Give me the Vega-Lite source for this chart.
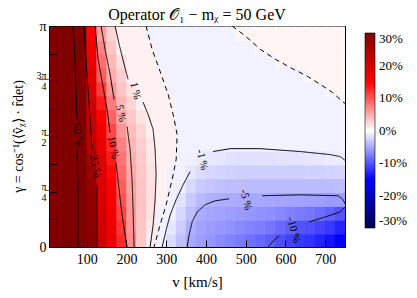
{
"$schema":"https://vega.github.io/schema/vega-lite/v6.json",
"width":296,"height":221,
"autosize":{"type":"none"},
"padding":{"left":49,"top":26,"right":72,"bottom":51},
"background":"white",
"title":{"text":"Operator 𝒪₁ − mᵪ = 50 GeV","font":"Liberation Serif","fontSize":16,"fontWeight":"normal","color":"black","anchor":"middle","offset":-4},
"config":{"view":{"stroke":"black","strokeWidth":1}},
"datasets":{
"grid":[
{"v":0,"g":0,"p":100},{"v":25,"g":0,"p":82},{"v":50,"g":0,"p":62.2},{"v":75,"g":0,"p":45},{"v":100,"g":0,"p":29},{"v":125,"g":0,"p":21},{"v":150,"g":0,"p":17.5},{"v":175,"g":0,"p":12.5},{"v":200,"g":0,"p":6.7},{"v":225,"g":0,"p":3.3},{"v":250,"g":0,"p":0.8},{"v":275,"g":0,"p":-0.9},{"v":300,"g":0,"p":-2.1},{"v":325,"g":0,"p":-3.7},{"v":350,"g":0,"p":-5.1},{"v":375,"g":0,"p":-5.7},{"v":400,"g":0,"p":-6.2},{"v":425,"g":0,"p":-6.8},{"v":450,"g":0,"p":-7.3},{"v":475,"g":0,"p":-7.8},{"v":500,"g":0,"p":-8.4},{"v":525,"g":0,"p":-8.9},{"v":550,"g":0,"p":-9.5},{"v":575,"g":0,"p":-10.4},{"v":600,"g":0,"p":-11.2},{"v":625,"g":0,"p":-11.7},{"v":650,"g":0,"p":-12.2},{"v":675,"g":0,"p":-13},{"v":700,"g":0,"p":-13.9},{"v":725,"g":0,"p":-15.6},
{"v":0,"g":0.0625,"p":100},{"v":25,"g":0.0625,"p":81.8},{"v":50,"g":0.0625,"p":62},{"v":75,"g":0.0625,"p":44.8},{"v":100,"g":0.0625,"p":28.7},{"v":125,"g":0.0625,"p":20.7},{"v":150,"g":0.0625,"p":17},{"v":175,"g":0.0625,"p":11.8},{"v":200,"g":0.0625,"p":6.3},{"v":225,"g":0.0625,"p":3.4},{"v":250,"g":0.0625,"p":1.3},{"v":275,"g":0.0625,"p":-0.8},{"v":300,"g":0.0625,"p":-1.5},{"v":325,"g":0.0625,"p":-3},{"v":350,"g":0.0625,"p":-4.7},{"v":375,"g":0.0625,"p":-5.4},{"v":400,"g":0.0625,"p":-5.8},{"v":425,"g":0.0625,"p":-6.1},{"v":450,"g":0.0625,"p":-6.5},{"v":475,"g":0.0625,"p":-6.9},{"v":500,"g":0.0625,"p":-7.3},{"v":525,"g":0.0625,"p":-7.6},{"v":550,"g":0.0625,"p":-8.1},{"v":575,"g":0.0625,"p":-8.8},{"v":600,"g":0.0625,"p":-9.5},{"v":625,"g":0.0625,"p":-10.1},{"v":650,"g":0.0625,"p":-10.4},{"v":675,"g":0.0625,"p":-11},{"v":700,"g":0.0625,"p":-11.7},{"v":725,"g":0.0625,"p":-12.9},
{"v":0,"g":0.125,"p":100},{"v":25,"g":0.125,"p":81.6},{"v":50,"g":0.125,"p":61.8},{"v":75,"g":0.125,"p":44.6},{"v":100,"g":0.125,"p":28.3},{"v":125,"g":0.125,"p":20.4},{"v":150,"g":0.125,"p":16.5},{"v":175,"g":0.125,"p":11},{"v":200,"g":0.125,"p":6},{"v":225,"g":0.125,"p":3.5},{"v":250,"g":0.125,"p":1.6},{"v":275,"g":0.125,"p":-0.8},{"v":300,"g":0.125,"p":-0.9},{"v":325,"g":0.125,"p":-2.3},{"v":350,"g":0.125,"p":-3.9},{"v":375,"g":0.125,"p":-5},{"v":400,"g":0.125,"p":-5.3},{"v":425,"g":0.125,"p":-5.5},{"v":450,"g":0.125,"p":-5.7},{"v":475,"g":0.125,"p":-6},{"v":500,"g":0.125,"p":-6.2},{"v":525,"g":0.125,"p":-6.4},{"v":550,"g":0.125,"p":-6.6},{"v":575,"g":0.125,"p":-7},{"v":600,"g":0.125,"p":-7.4},{"v":625,"g":0.125,"p":-7.8},{"v":650,"g":0.125,"p":-8.1},{"v":675,"g":0.125,"p":-8.6},{"v":700,"g":0.125,"p":-9.3},{"v":725,"g":0.125,"p":-10.1},
{"v":0,"g":0.1875,"p":100},{"v":25,"g":0.1875,"p":81.4},{"v":50,"g":0.1875,"p":61.6},{"v":75,"g":0.1875,"p":44.3},{"v":100,"g":0.1875,"p":27.9},{"v":125,"g":0.1875,"p":20},{"v":150,"g":0.1875,"p":15.9},{"v":175,"g":0.1875,"p":10.2},{"v":200,"g":0.1875,"p":5.8},{"v":225,"g":0.1875,"p":3.6},{"v":250,"g":0.1875,"p":1.9},{"v":275,"g":0.1875,"p":0.8},{"v":300,"g":0.1875,"p":-0.8},{"v":325,"g":0.1875,"p":-1.7},{"v":350,"g":0.1875,"p":-3.1},{"v":375,"g":0.1875,"p":-4.1},{"v":400,"g":0.1875,"p":-4.6},{"v":425,"g":0.1875,"p":-4.8},{"v":450,"g":0.1875,"p":-4.9},{"v":475,"g":0.1875,"p":-5},{"v":500,"g":0.1875,"p":-5.1},{"v":525,"g":0.1875,"p":-5.1},{"v":550,"g":0.1875,"p":-5.2},{"v":575,"g":0.1875,"p":-5.3},{"v":600,"g":0.1875,"p":-5.4},{"v":625,"g":0.1875,"p":-5.5},{"v":650,"g":0.1875,"p":-5.6},{"v":675,"g":0.1875,"p":-5.7},{"v":700,"g":0.1875,"p":-5.9},{"v":725,"g":0.1875,"p":-5.8},
{"v":0,"g":0.25,"p":100},{"v":25,"g":0.25,"p":81},{"v":50,"g":0.25,"p":61.2},{"v":75,"g":0.25,"p":44},{"v":100,"g":0.25,"p":27.5},{"v":125,"g":0.25,"p":19.6},{"v":150,"g":0.25,"p":15.3},{"v":175,"g":0.25,"p":9.5},{"v":200,"g":0.25,"p":5.5},{"v":225,"g":0.25,"p":3.5},{"v":250,"g":0.25,"p":1.9},{"v":275,"g":0.25,"p":0.8},{"v":300,"g":0.25,"p":-0.8},{"v":325,"g":0.25,"p":-1},{"v":350,"g":0.25,"p":-2.3},{"v":375,"g":0.25,"p":-3.1},{"v":400,"g":0.25,"p":-3.5},{"v":425,"g":0.25,"p":-3.7},{"v":450,"g":0.25,"p":-3.8},{"v":475,"g":0.25,"p":-3.9},{"v":500,"g":0.25,"p":-4},{"v":525,"g":0.25,"p":-4},{"v":550,"g":0.25,"p":-4},{"v":575,"g":0.25,"p":-4},{"v":600,"g":0.25,"p":-4},{"v":625,"g":0.25,"p":-4},{"v":650,"g":0.25,"p":-4},{"v":675,"g":0.25,"p":-4},{"v":700,"g":0.25,"p":-4},{"v":725,"g":0.25,"p":-3.9},
{"v":0,"g":0.3125,"p":100},{"v":25,"g":0.3125,"p":80.8},{"v":50,"g":0.3125,"p":61},{"v":75,"g":0.3125,"p":43.8},{"v":100,"g":0.3125,"p":27},{"v":125,"g":0.3125,"p":19.2},{"v":150,"g":0.3125,"p":14.5},{"v":175,"g":0.3125,"p":8.8},{"v":200,"g":0.3125,"p":5},{"v":225,"g":0.3125,"p":3.3},{"v":250,"g":0.3125,"p":1.7},{"v":275,"g":0.3125,"p":0.8},{"v":300,"g":0.3125,"p":-0.8},{"v":325,"g":0.3125,"p":-0.8},{"v":350,"g":0.3125,"p":-1.5},{"v":375,"g":0.3125,"p":-2.1},{"v":400,"g":0.3125,"p":-2.4},{"v":425,"g":0.3125,"p":-2.6},{"v":450,"g":0.3125,"p":-2.7},{"v":475,"g":0.3125,"p":-2.8},{"v":500,"g":0.3125,"p":-2.9},{"v":525,"g":0.3125,"p":-2.9},{"v":550,"g":0.3125,"p":-2.8},{"v":575,"g":0.3125,"p":-2.8},{"v":600,"g":0.3125,"p":-2.8},{"v":625,"g":0.3125,"p":-2.8},{"v":650,"g":0.3125,"p":-2.7},{"v":675,"g":0.3125,"p":-2.7},{"v":700,"g":0.3125,"p":-2.6},{"v":725,"g":0.3125,"p":-2.5},
{"v":0,"g":0.375,"p":100},{"v":25,"g":0.375,"p":80.6},{"v":50,"g":0.375,"p":60.8},{"v":75,"g":0.375,"p":43.1},{"v":100,"g":0.375,"p":25.5},{"v":125,"g":0.375,"p":18.5},{"v":150,"g":0.375,"p":13.5},{"v":175,"g":0.375,"p":8.2},{"v":200,"g":0.375,"p":4.7},{"v":225,"g":0.375,"p":3.1},{"v":250,"g":0.375,"p":1.5},{"v":275,"g":0.375,"p":0.8},{"v":300,"g":0.375,"p":0.8},{"v":325,"g":0.375,"p":-0.8},{"v":350,"g":0.375,"p":-0.9},{"v":375,"g":0.375,"p":-1.1},{"v":400,"g":0.375,"p":-1.4},{"v":425,"g":0.375,"p":-1.5},{"v":450,"g":0.375,"p":-1.7},{"v":475,"g":0.375,"p":-1.8},{"v":500,"g":0.375,"p":-1.8},{"v":525,"g":0.375,"p":-1.7},{"v":550,"g":0.375,"p":-1.7},{"v":575,"g":0.375,"p":-1.6},{"v":600,"g":0.375,"p":-1.6},{"v":625,"g":0.375,"p":-1.6},{"v":650,"g":0.375,"p":-1.5},{"v":675,"g":0.375,"p":-1.4},{"v":700,"g":0.375,"p":-1.2},{"v":725,"g":0.375,"p":-1.1},
{"v":0,"g":0.4375,"p":100},{"v":25,"g":0.4375,"p":80.4},{"v":50,"g":0.4375,"p":60.6},{"v":75,"g":0.4375,"p":42.2},{"v":100,"g":0.4375,"p":23.5},{"v":125,"g":0.4375,"p":17.5},{"v":150,"g":0.4375,"p":12.4},{"v":175,"g":0.4375,"p":7.4},{"v":200,"g":0.4375,"p":4.3},{"v":225,"g":0.4375,"p":2.8},{"v":250,"g":0.4375,"p":1.3},{"v":275,"g":0.4375,"p":0.8},{"v":300,"g":0.4375,"p":0.8},{"v":325,"g":0.4375,"p":-0.8},{"v":350,"g":0.4375,"p":-0.8},{"v":375,"g":0.4375,"p":-0.8},{"v":400,"g":0.4375,"p":-0.8},{"v":425,"g":0.4375,"p":-0.8},{"v":450,"g":0.4375,"p":-0.8},{"v":475,"g":0.4375,"p":-0.8},{"v":500,"g":0.4375,"p":-0.8},{"v":525,"g":0.4375,"p":-0.8},{"v":550,"g":0.4375,"p":-0.8},{"v":575,"g":0.4375,"p":-0.8},{"v":600,"g":0.4375,"p":-0.8},{"v":625,"g":0.4375,"p":-0.8},{"v":650,"g":0.4375,"p":-0.8},{"v":675,"g":0.4375,"p":-0.8},{"v":700,"g":0.4375,"p":-0.8},{"v":725,"g":0.4375,"p":-0.8},
{"v":0,"g":0.5,"p":100},{"v":25,"g":0.5,"p":79.8},{"v":50,"g":0.5,"p":60},{"v":75,"g":0.5,"p":41.1},{"v":100,"g":0.5,"p":22.5},{"v":125,"g":0.5,"p":16.5},{"v":150,"g":0.5,"p":10.7},{"v":175,"g":0.5,"p":6.2},{"v":200,"g":0.5,"p":3.9},{"v":225,"g":0.5,"p":2.4},{"v":250,"g":0.5,"p":0.8},{"v":275,"g":0.5,"p":0.8},{"v":300,"g":0.5,"p":0.8},{"v":325,"g":0.5,"p":-0.8},{"v":350,"g":0.5,"p":-0.8},{"v":375,"g":0.5,"p":-0.8},{"v":400,"g":0.5,"p":-0.8},{"v":425,"g":0.5,"p":-0.8},{"v":450,"g":0.5,"p":-0.8},{"v":475,"g":0.5,"p":-0.8},{"v":500,"g":0.5,"p":-0.8},{"v":525,"g":0.5,"p":-0.8},{"v":550,"g":0.5,"p":-0.8},{"v":575,"g":0.5,"p":-0.8},{"v":600,"g":0.5,"p":-0.8},{"v":625,"g":0.5,"p":-0.8},{"v":650,"g":0.5,"p":-0.8},{"v":675,"g":0.5,"p":-0.8},{"v":700,"g":0.5,"p":-0.8},{"v":725,"g":0.5,"p":-0.8},
{"v":0,"g":0.5625,"p":100},{"v":25,"g":0.5625,"p":78.6},{"v":50,"g":0.5625,"p":58.8},{"v":75,"g":0.5625,"p":39.7},{"v":100,"g":0.5625,"p":21.5},{"v":125,"g":0.5625,"p":15},{"v":150,"g":0.5625,"p":9.2},{"v":175,"g":0.5625,"p":5},{"v":200,"g":0.5625,"p":3.3},{"v":225,"g":0.5625,"p":1.6},{"v":250,"g":0.5625,"p":0.8},{"v":275,"g":0.5625,"p":0.8},{"v":300,"g":0.5625,"p":0.8},{"v":325,"g":0.5625,"p":-0.8},{"v":350,"g":0.5625,"p":-0.8},{"v":375,"g":0.5625,"p":-0.8},{"v":400,"g":0.5625,"p":-0.8},{"v":425,"g":0.5625,"p":-0.8},{"v":450,"g":0.5625,"p":-0.8},{"v":475,"g":0.5625,"p":-0.8},{"v":500,"g":0.5625,"p":-0.8},{"v":525,"g":0.5625,"p":-0.8},{"v":550,"g":0.5625,"p":-0.8},{"v":575,"g":0.5625,"p":-0.8},{"v":600,"g":0.5625,"p":-0.8},{"v":625,"g":0.5625,"p":-0.8},{"v":650,"g":0.5625,"p":-0.8},{"v":675,"g":0.5625,"p":-0.8},{"v":700,"g":0.5625,"p":-0.8},{"v":725,"g":0.5625,"p":-0.8},
{"v":0,"g":0.625,"p":100},{"v":25,"g":0.625,"p":77.8},{"v":50,"g":0.625,"p":58},{"v":75,"g":0.625,"p":38.4},{"v":100,"g":0.625,"p":20.5},{"v":125,"g":0.625,"p":13.5},{"v":150,"g":0.625,"p":7.8},{"v":175,"g":0.625,"p":4.3},{"v":200,"g":0.625,"p":2.5},{"v":225,"g":0.625,"p":0.8},{"v":250,"g":0.625,"p":0.8},{"v":275,"g":0.625,"p":0.8},{"v":300,"g":0.625,"p":0.8},{"v":325,"g":0.625,"p":-0.8},{"v":350,"g":0.625,"p":-0.8},{"v":375,"g":0.625,"p":-0.8},{"v":400,"g":0.625,"p":-0.8},{"v":425,"g":0.625,"p":-0.8},{"v":450,"g":0.625,"p":-0.8},{"v":475,"g":0.625,"p":-0.8},{"v":500,"g":0.625,"p":-0.8},{"v":525,"g":0.625,"p":-0.8},{"v":550,"g":0.625,"p":-0.8},{"v":575,"g":0.625,"p":-0.8},{"v":600,"g":0.625,"p":-0.8},{"v":625,"g":0.625,"p":-0.8},{"v":650,"g":0.625,"p":-0.8},{"v":675,"g":0.625,"p":-0.8},{"v":700,"g":0.625,"p":-0.8},{"v":725,"g":0.625,"p":-0.8},
{"v":0,"g":0.6875,"p":100},{"v":25,"g":0.6875,"p":76.6},{"v":50,"g":0.6875,"p":56.8},{"v":75,"g":0.6875,"p":36.8},{"v":100,"g":0.6875,"p":19.5},{"v":125,"g":0.6875,"p":11.5},{"v":150,"g":0.6875,"p":6.2},{"v":175,"g":0.6875,"p":3.5},{"v":200,"g":0.6875,"p":1.6},{"v":225,"g":0.6875,"p":0.8},{"v":250,"g":0.6875,"p":0.8},{"v":275,"g":0.6875,"p":0.8},{"v":300,"g":0.6875,"p":-0.8},{"v":325,"g":0.6875,"p":-0.8},{"v":350,"g":0.6875,"p":-0.8},{"v":375,"g":0.6875,"p":-0.8},{"v":400,"g":0.6875,"p":-0.8},{"v":425,"g":0.6875,"p":-0.8},{"v":450,"g":0.6875,"p":-0.8},{"v":475,"g":0.6875,"p":-0.8},{"v":500,"g":0.6875,"p":-0.8},{"v":525,"g":0.6875,"p":-0.8},{"v":550,"g":0.6875,"p":-0.8},{"v":575,"g":0.6875,"p":-0.8},{"v":600,"g":0.6875,"p":-0.8},{"v":625,"g":0.6875,"p":-0.8},{"v":650,"g":0.6875,"p":-0.8},{"v":675,"g":0.6875,"p":-0.8},{"v":700,"g":0.6875,"p":0.6},{"v":725,"g":0.6875,"p":0.6},
{"v":0,"g":0.75,"p":100},{"v":25,"g":0.75,"p":75.8},{"v":50,"g":0.75,"p":56},{"v":75,"g":0.75,"p":35.4},{"v":100,"g":0.75,"p":18.5},{"v":125,"g":0.75,"p":9.5},{"v":150,"g":0.75,"p":4.8},{"v":175,"g":0.75,"p":2.8},{"v":200,"g":0.75,"p":0.8},{"v":225,"g":0.75,"p":0.8},{"v":250,"g":0.75,"p":0.8},{"v":275,"g":0.75,"p":0.8},{"v":300,"g":0.75,"p":-0.8},{"v":325,"g":0.75,"p":-0.8},{"v":350,"g":0.75,"p":-0.8},{"v":375,"g":0.75,"p":-0.8},{"v":400,"g":0.75,"p":-0.8},{"v":425,"g":0.75,"p":-0.8},{"v":450,"g":0.75,"p":-0.8},{"v":475,"g":0.75,"p":-0.8},{"v":500,"g":0.75,"p":-0.8},{"v":525,"g":0.75,"p":-0.8},{"v":550,"g":0.75,"p":-0.8},{"v":575,"g":0.75,"p":-0.8},{"v":600,"g":0.75,"p":-0.8},{"v":625,"g":0.75,"p":-0.8},{"v":650,"g":0.75,"p":0.6},{"v":675,"g":0.75,"p":0.6},{"v":700,"g":0.75,"p":0.6},{"v":725,"g":0.75,"p":0.6},
{"v":0,"g":0.8125,"p":100},{"v":25,"g":0.8125,"p":74.6},{"v":50,"g":0.8125,"p":54.8},{"v":75,"g":0.8125,"p":34},{"v":100,"g":0.8125,"p":17.5},{"v":125,"g":0.8125,"p":8.5},{"v":150,"g":0.8125,"p":4.2},{"v":175,"g":0.8125,"p":1.9},{"v":200,"g":0.8125,"p":0.8},{"v":225,"g":0.8125,"p":0.8},{"v":250,"g":0.8125,"p":0.8},{"v":275,"g":0.8125,"p":-0.8},{"v":300,"g":0.8125,"p":-0.8},{"v":325,"g":0.8125,"p":-0.8},{"v":350,"g":0.8125,"p":-0.8},{"v":375,"g":0.8125,"p":-0.8},{"v":400,"g":0.8125,"p":-0.8},{"v":425,"g":0.8125,"p":-0.8},{"v":450,"g":0.8125,"p":-0.8},{"v":475,"g":0.8125,"p":-0.8},{"v":500,"g":0.8125,"p":-0.8},{"v":525,"g":0.8125,"p":-0.8},{"v":550,"g":0.8125,"p":-0.8},{"v":575,"g":0.8125,"p":0.6},{"v":600,"g":0.8125,"p":0.6},{"v":625,"g":0.8125,"p":0.6},{"v":650,"g":0.8125,"p":0.6},{"v":675,"g":0.8125,"p":0.6},{"v":700,"g":0.8125,"p":0.6},{"v":725,"g":0.8125,"p":0.6},
{"v":0,"g":0.875,"p":100},{"v":25,"g":0.875,"p":73.6},{"v":50,"g":0.875,"p":53.8},{"v":75,"g":0.875,"p":32.5},{"v":100,"g":0.875,"p":16.5},{"v":125,"g":0.875,"p":7.3},{"v":150,"g":0.875,"p":3.4},{"v":175,"g":0.875,"p":0.8},{"v":200,"g":0.875,"p":0.8},{"v":225,"g":0.875,"p":0.8},{"v":250,"g":0.875,"p":0.8},{"v":275,"g":0.875,"p":-0.8},{"v":300,"g":0.875,"p":-0.8},{"v":325,"g":0.875,"p":-0.8},{"v":350,"g":0.875,"p":-0.8},{"v":375,"g":0.875,"p":-0.8},{"v":400,"g":0.875,"p":-0.8},{"v":425,"g":0.875,"p":-0.8},{"v":450,"g":0.875,"p":-0.8},{"v":475,"g":0.875,"p":-0.8},{"v":500,"g":0.875,"p":-0.8},{"v":525,"g":0.875,"p":0.6},{"v":550,"g":0.875,"p":0.6},{"v":575,"g":0.875,"p":0.6},{"v":600,"g":0.875,"p":0.6},{"v":625,"g":0.875,"p":0.6},{"v":650,"g":0.875,"p":0.6},{"v":675,"g":0.875,"p":0.6},{"v":700,"g":0.875,"p":0.6},{"v":725,"g":0.875,"p":0.6},
{"v":0,"g":0.9375,"p":100},{"v":25,"g":0.9375,"p":72.6},{"v":50,"g":0.9375,"p":52.8},{"v":75,"g":0.9375,"p":31},{"v":100,"g":0.9375,"p":15},{"v":125,"g":0.9375,"p":5.6},{"v":150,"g":0.9375,"p":2.5},{"v":175,"g":0.9375,"p":0.8},{"v":200,"g":0.9375,"p":0.8},{"v":225,"g":0.9375,"p":0.8},{"v":250,"g":0.9375,"p":-0.8},{"v":275,"g":0.9375,"p":-0.8},{"v":300,"g":0.9375,"p":-0.8},{"v":325,"g":0.9375,"p":-0.8},{"v":350,"g":0.9375,"p":-0.8},{"v":375,"g":0.9375,"p":-0.8},{"v":400,"g":0.9375,"p":-0.8},{"v":425,"g":0.9375,"p":-0.8},{"v":450,"g":0.9375,"p":-0.8},{"v":475,"g":0.9375,"p":0.6},{"v":500,"g":0.9375,"p":0.6},{"v":525,"g":0.9375,"p":0.6},{"v":550,"g":0.9375,"p":0.6},{"v":575,"g":0.9375,"p":0.6},{"v":600,"g":0.9375,"p":0.6},{"v":625,"g":0.9375,"p":0.6},{"v":650,"g":0.9375,"p":0.6},{"v":675,"g":0.9375,"p":0.6},{"v":700,"g":0.9375,"p":0.6},{"v":725,"g":0.9375,"p":0.6}
],
"lines":[
{"s":"50a","lev":"50","k":0,"v":65.5,"g":1},{"s":"50a","lev":"50","k":1,"v":70.5,"g":0.85},{"s":"50a","lev":"50","k":2,"v":73,"g":0.714},{"s":"50a","lev":"50","k":3,"v":75.6,"g":0.577},
{"s":"50b","lev":"50","k":0,"v":75.6,"g":0.441},{"s":"50b","lev":"50","k":1,"v":78.1,"g":0.259},{"s":"50b","lev":"50","k":2,"v":78.1,"g":0},
{"s":"25a","lev":"25","k":0,"v":93.2,"g":1},{"s":"25a","lev":"25","k":1,"v":98.2,"g":0.85},{"s":"25a","lev":"25","k":2,"v":103.3,"g":0.714},{"s":"25a","lev":"25","k":3,"v":108.3,"g":0.577},{"s":"25a","lev":"25","k":4,"v":113.4,"g":0.441},
{"s":"25b","lev":"25","k":0,"v":126,"g":0.282},{"s":"25b","lev":"25","k":1,"v":126,"g":0.123},{"s":"25b","lev":"25","k":2,"v":126,"g":0},
{"s":"10a","lev":"10","k":0,"v":120.9,"g":1},{"s":"10a","lev":"10","k":1,"v":128.5,"g":0.85},{"s":"10a","lev":"10","k":2,"v":138.5,"g":0.75},{"s":"10a","lev":"10","k":3,"v":151.1,"g":0.623},{"s":"10a","lev":"10","k":4,"v":158.7,"g":0.518},
{"s":"10b","lev":"10","k":0,"v":173.8,"g":0.382},{"s":"10b","lev":"10","k":1,"v":181.4,"g":0.259},{"s":"10b","lev":"10","k":2,"v":188.9,"g":0.145},{"s":"10b","lev":"10","k":3,"v":196.5,"g":0.055},{"s":"10b","lev":"10","k":4,"v":201.5,"g":0},
{"s":"5a","lev":"5","k":0,"v":136,"g":1},{"s":"5a","lev":"5","k":1,"v":146.1,"g":0.895},{"s":"5a","lev":"5","k":2,"v":158.7,"g":0.782},{"s":"5a","lev":"5","k":3,"v":168.8,"g":0.668},
{"s":"5b","lev":"5","k":0,"v":201.5,"g":0.545},{"s":"5b","lev":"5","k":1,"v":209.1,"g":0.441},{"s":"5b","lev":"5","k":2,"v":214.1,"g":0.305},{"s":"5b","lev":"5","k":3,"v":216.6,"g":0.168},{"s":"5b","lev":"5","k":4,"v":219.2,"g":0},
{"s":"1a","lev":"1","k":0,"v":171.3,"g":1},{"s":"1a","lev":"1","k":1,"v":181.4,"g":0.918},{"s":"1a","lev":"1","k":2,"v":194,"g":0.827},{"s":"1a","lev":"1","k":3,"v":204,"g":0.759},
{"s":"1b","lev":"1","k":0,"v":241.8,"g":0.655},{"s":"1b","lev":"1","k":1,"v":254.4,"g":0.6},{"s":"1b","lev":"1","k":2,"v":267,"g":0.532},{"s":"1b","lev":"1","k":3,"v":272.1,"g":0.441},{"s":"1b","lev":"1","k":4,"v":274.6,"g":0.327},{"s":"1b","lev":"1","k":5,"v":272.1,"g":0.214},{"s":"1b","lev":"1","k":6,"v":267,"g":0.1},{"s":"1b","lev":"1","k":7,"v":259.5,"g":0},
{"s":"0a","lev":"0","k":0,"v":249.4,"g":1},{"s":"0a","lev":"0","k":1,"v":264.5,"g":0.895},{"s":"0a","lev":"0","k":2,"v":284.6,"g":0.795},{"s":"0a","lev":"0","k":3,"v":304.8,"g":0.691},{"s":"0a","lev":"0","k":4,"v":317.4,"g":0.6},{"s":"0a","lev":"0","k":5,"v":327.5,"g":0.509},{"s":"0a","lev":"0","k":6,"v":325,"g":0.395},{"s":"0a","lev":"0","k":7,"v":314.9,"g":0.305},{"s":"0a","lev":"0","k":8,"v":299.8,"g":0.191},{"s":"0a","lev":"0","k":9,"v":284.6,"g":0.1},{"s":"0a","lev":"0","k":10,"v":269.5,"g":0},
{"s":"0b","lev":"0","k":0,"v":466,"g":1},{"s":"0b","lev":"0","k":1,"v":498.8,"g":0.955},{"s":"0b","lev":"0","k":2,"v":536.5,"g":0.895},{"s":"0b","lev":"0","k":3,"v":574.3,"g":0.85},{"s":"0b","lev":"0","k":4,"v":619.7,"g":0.805},{"s":"0b","lev":"0","k":5,"v":655,"g":0.773},{"s":"0b","lev":"0","k":6,"v":687.7,"g":0.736},{"s":"0b","lev":"0","k":7,"v":717.9,"g":0.7},{"s":"0b","lev":"0","k":8,"v":743.1,"g":0.659},{"s":"0b","lev":"0","k":9,"v":753,"g":0.645},
{"s":"m1a","lev":"-1","k":0,"v":289.7,"g":0},{"s":"m1a","lev":"-1","k":1,"v":299.8,"g":0.077},{"s":"m1a","lev":"-1","k":2,"v":309.9,"g":0.145},{"s":"m1a","lev":"-1","k":3,"v":325,"g":0.214},{"s":"m1a","lev":"-1","k":4,"v":342.6,"g":0.282},{"s":"m1a","lev":"-1","k":5,"v":360.2,"g":0.341},
{"s":"m1b","lev":"-1","k":0,"v":418.2,"g":0.432},{"s":"m1b","lev":"-1","k":1,"v":461,"g":0.445},{"s":"m1b","lev":"-1","k":2,"v":536.5,"g":0.445},{"s":"m1b","lev":"-1","k":3,"v":637.3,"g":0.432},{"s":"m1b","lev":"-1","k":4,"v":712.9,"g":0.418},{"s":"m1b","lev":"-1","k":5,"v":738,"g":0.409},{"s":"m1b","lev":"-1","k":6,"v":750.7,"g":0.391},
{"s":"m5a","lev":"-5","k":0,"v":352.7,"g":0},{"s":"m5a","lev":"-5","k":1,"v":357.7,"g":0.055},{"s":"m5a","lev":"-5","k":2,"v":365.3,"g":0.114},{"s":"m5a","lev":"-5","k":3,"v":377.9,"g":0.159},{"s":"m5a","lev":"-5","k":4,"v":398,"g":0.191},{"s":"m5a","lev":"-5","k":5,"v":423.2,"g":0.209},{"s":"m5a","lev":"-5","k":6,"v":458.5,"g":0.218},
{"s":"m5b","lev":"-5","k":0,"v":541.6,"g":0.232},{"s":"m5b","lev":"-5","k":1,"v":637.3,"g":0.236},{"s":"m5b","lev":"-5","k":2,"v":733,"g":0.232},{"s":"m5b","lev":"-5","k":3,"v":743.1,"g":0.218},{"s":"m5b","lev":"-5","k":4,"v":750.7,"g":0.195},
{"s":"m10a","lev":"-10","k":0,"v":556.7,"g":0},{"s":"m10a","lev":"-10","k":1,"v":569.3,"g":0.027},{"s":"m10a","lev":"-10","k":2,"v":584.4,"g":0.05},
{"s":"m10b","lev":"-10","k":0,"v":660,"g":0.114},{"s":"m10b","lev":"-10","k":1,"v":700.3,"g":0.136},{"s":"m10b","lev":"-10","k":2,"v":738,"g":0.159},{"s":"m10b","lev":"-10","k":3,"v":750.7,"g":0.182}
],
"labels":[
{"t":"50 %","v":76.8,"g":0.509},{"t":"25 %","v":120.9,"g":0.364},{"t":"10 %","v":166,"g":0.45},{"t":"5 %","v":185,"g":0.605},{"t":"1 %","v":222,"g":0.707},{"t":"-1 %","v":390,"g":0.395},{"t":"-5 %","v":500,"g":0.214},{"t":"-10 %","v":620,"g":0.077}
]
},
"layer":[
{"data":{"name":"grid"},
 "mark":{"type":"rect","clip":true,"x2Offset":-0.8,"y2Offset":0.8},
 "encoding":{
  "x":{"field":"v","type":"quantitative","bin":{"binned":true,"step":25},"scale":{"domain":[5,750],"nice":false,"zero":false},
       "axis":{"orient":"bottom","values":[100,200,300,400,500,600,700],"tickSize":-7,"tickColor":"black","domainColor":"black","labelFont":"Liberation Serif","labelFontSize":14,"labelColor":"black","labelPadding":12,"grid":false,"title":"v [km/s]","titleFont":"Liberation Serif","titleFontSize":15,"titleFontWeight":"normal","titleColor":"black","titleY":34,"titleBaseline":"middle"}},
  "y":{"field":"g","type":"quantitative","bin":{"binned":true,"step":0.0625},"scale":{"domain":[0,1],"nice":false,"zero":false},
       "axis":{"orient":"left","values":[0,0.125,0.25,0.375,0.5,0.625,0.75,0.875,1],"tickSize":-7,"tickColor":"black","domainColor":"black","labelFont":"Liberation Serif","labelFontSize":{"condition":{"test":"datum.value==1 || datum.value==0","value":14},"value":10},"labelLineHeight":11,"labelOffset":{"condition":{"test":"datum.value==1 || datum.value==0","value":0},"value":-5.5},"labelColor":"black","labelPadding":10,"grid":false,
        "labelExpr":"datum.value==1?'π':datum.value==0.75?['3\u0332\u03c0\u0332','4']:datum.value==0.5?['\u03c0\u0332','2']:datum.value==0.25?['\u03c0\u0332','4']:datum.value==0?'0':''",
        "title":"γ = cos⁻¹(⟨v̂ᵪ⟩ · r̂det)","titleFont":"Liberation Serif","titleFontSize":14,"titleFontWeight":"normal","titleColor":"black","titleX":-31,"titleY":110,"titleBaseline":"middle"}},
  "color":{"field":"p","type":"quantitative","scale":{"type":"linear","domain":[-30,-15,0,15,30],"range":["#00004d","#0000ff","#ffffff","#ff0000","#800000"],"clamp":true,"interpolate":"rgb"},
       "legend":{"type":"gradient","orient":"none","legendX":316,"legendY":7,"direction":"vertical","gradientLength":195,"gradientThickness":10,"gradientStrokeColor":"black","gradientStrokeWidth":0.6,"values":[-30,-20,-10,0,10,20,30],"labelExpr":"datum.value+'%'","labelFont":"Liberation Serif","labelFontSize":13,"labelColor":"black","title":null,"padding":0,"labelOffset":4}}
 }},
{"data":{"name":"lines"},
 "mark":{"type":"line","clip":true,"color":"black","strokeWidth":1},
 "encoding":{
  "x":{"field":"v","type":"quantitative","axis":{"orient":"top","values":[100,200,300,400,500,600,700],"tickSize":-7,"tickColor":"black","domainColor":"black","labels":false,"title":null,"grid":false}},
  "y":{"field":"g","type":"quantitative","axis":{"orient":"right","values":[0,0.125,0.25,0.375,0.5,0.625,0.75,0.875,1],"tickSize":-7,"tickColor":"black","domainColor":"black","labels":false,"title":null,"grid":false}},
  "detail":{"field":"s","type":"nominal"},
  "order":{"field":"k","type":"quantitative"},
  "strokeDash":{"field":"lev","type":"nominal","scale":{"domain":["50","25","10","5","1","0","-1","-5","-10"],"range":[[1,0],[1,0],[1,0],[1,0],[1,0],[5,4],[1,0],[1,0],[1,0]]},"legend":null}
 }},
{"data":{"name":"labels"},
 "mark":{"type":"text","font":"Liberation Serif","fontSize":11,"color":"black","align":"center","baseline":"middle"},
 "encoding":{
  "x":{"field":"v","type":"quantitative","axis":null},
  "y":{"field":"g","type":"quantitative","axis":null},
  "text":{"field":"t","type":"nominal"},
  "angle":{"field":"t","type":"ordinal","scale":{"domain":["50 %","25 %","10 %","5 %","1 %","-1 %","-5 %","-10 %"],"range":[80,75,60,58,52,-50,-8,-28]},"legend":null}
 }}
],
"resolve":{"axis":{"x":"independent","y":"independent"}}
}
